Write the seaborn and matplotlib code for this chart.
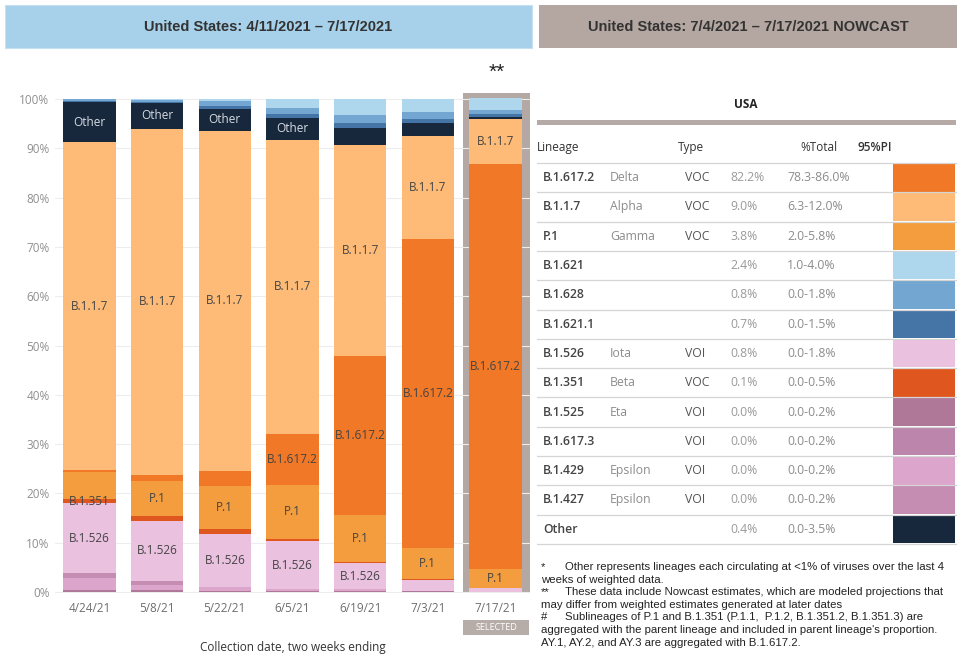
import numpy as np
import pandas as pd
import seaborn as sns
from matplotlib import pyplot as plt
from matplotlib.patches import Rectangle

sns.set_style('whitegrid')
plt.rcParams['font.family'] = ['Open Sans', 'DejaVu Sans']

# two-week periods (collection date, two weeks ending)
dates = ['4/24/21', '5/8/21', '5/22/21', '6/5/21', '6/19/21', '7/3/21', '7/17/21']

# % of sequences per lineage, one value per period (last one = nowcast)
b1621 = [0.1, 0.3, 0.5, 1.9, 3.2, 2.6, 2.4]
b1628 = [0.3, 0.3, 1.0, 1.1, 1.7, 1.5, 0.8]
b16211 = [0.2, 0.2, 0.5, 0.8, 1.0, 0.7, 0.7]
other = [8.2, 5.3, 4.4, 4.5, 3.4, 2.8, 0.4]
b117 = [66.4, 70.1, 69.1, 59.6, 42.8, 20.8, 9.0]
b16172 = [0.5, 1.3, 3.0, 10.3, 32.2, 62.7, 82.2]
p1 = [5.4, 7.1, 8.8, 11.1, 9.5, 6.3, 3.8]
b1351 = [0.9, 0.9, 1.0, 0.4, 0.3, 0.2, 0.1]
b1526 = [14.2, 12.2, 10.6, 9.7, 5.3, 2.2, 0.8]
b1427 = [0.9, 0.8, 0.1, 0.0, 0.0, 0.0, 0.0]
b1429 = [2.4, 1.1, 0.7, 0.4, 0.3, 0.0, 0.0]
b16173 = [0.0, 0.0, 0.0, 0.0, 0.0, 0.0, 0.0]
b1525 = [0.5, 0.4, 0.3, 0.2, 0.3, 0.2, 0.0]

# stack order, top to bottom
lineages = ['B.1.621', 'B.1.628', 'B.1.621.1', 'Other', 'B.1.1.7', 'B.1.617.2',
            'P.1', 'B.1.351', 'B.1.526', 'B.1.427', 'B.1.429', 'B.1.617.3', 'B.1.525']
share = dict(zip(lineages, [b1621, b1628, b16211, other, b117, b16172, p1,
                            b1351, b1526, b1427, b1429, b16173, b1525]))

colors = {'B.1.617.2': '#F07826', 'B.1.1.7': '#FDBB77', 'P.1': '#F39D3E',
          'B.1.621': '#AED6EC', 'B.1.628': '#73A6D0', 'B.1.621.1': '#4575A6',
          'B.1.526': '#EBC1E0', 'B.1.351': '#E0561F', 'B.1.525': '#B07898',
          'B.1.617.3': '#BC85AB', 'B.1.429': '#DBA5CC', 'B.1.427': '#C68DB3',
          'Other': '#18283C'}

# which segments carry a text label in each bar
shown = [['Other', 'B.1.1.7', 'B.1.351', 'B.1.526'],
         ['Other', 'B.1.1.7', 'P.1', 'B.1.526'],
         ['Other', 'B.1.1.7', 'P.1', 'B.1.526'],
         ['Other', 'B.1.1.7', 'B.1.617.2', 'P.1', 'B.1.526'],
         ['B.1.1.7', 'B.1.617.2', 'P.1', 'B.1.526'],
         ['B.1.1.7', 'B.1.617.2', 'P.1'],
         ['B.1.1.7', 'B.1.617.2', 'P.1']]

# nowcast table
tbl_lineage = ['B.1.617.2', 'B.1.1.7', 'P.1', 'B.1.621', 'B.1.628', 'B.1.621.1',
               'B.1.526', 'B.1.351', 'B.1.525', 'B.1.617.3', 'B.1.429', 'B.1.427', 'Other']
tbl_who = ['Delta', 'Alpha', 'Gamma', '', '', '', 'Iota', 'Beta', 'Eta', '',
           'Epsilon', 'Epsilon', '']
tbl_type = ['VOC', 'VOC', 'VOC', '', '', '', 'VOI', 'VOC', 'VOI', 'VOI', 'VOI', 'VOI', '']
tbl_pct = [82.2, 9.0, 3.8, 2.4, 0.8, 0.7, 0.8, 0.1, 0.0, 0.0, 0.0, 0.0, 0.4]
tbl_pi = ['78.3-86.0%', '6.3-12.0%', '2.0-5.8%', '1.0-4.0%', '0.0-1.8%', '0.0-1.5%',
          '0.0-1.8%', '0.0-0.5%', '0.0-0.2%', '0.0-0.2%', '0.0-0.2%', '0.0-0.2%',
          '0.0-3.5%']

notes = [('*', 'Other represents lineages each circulating at <1% of viruses over the last 4'),
         ('', 'weeks of weighted data.'),
         ('**', 'These data include Nowcast estimates, which are modeled projections that'),
         ('', 'may differ from weighted estimates generated at later dates'),
         ('#', 'Sublineages of P.1 and B.1.351 (P.1.1,  P.1.2, B.1.351.2, B.1.351.3) are'),
         ('', "aggregated with the parent lineage and included in parent lineage's proportion."),
         ('', 'AY.1, AY.2, and AY.3 are aggregated with B.1.617.2.')]

rows = []
for lin in lineages:
    for i, v in enumerate(share[lin]):
        rows.append({'period': i, 'Lineage': lin, 'pct': v})
data = pd.DataFrame(rows)

fig = plt.figure(figsize=(9.6, 6.57), dpi=100)
ax = fig.add_axes([55 / 960, 1 - 598 / 657, 475 / 960, 502 / 657])

# grey "selected" frame behind the nowcast bar
ax.add_patch(Rectangle((5.515, -0.2), 0.995, 101.4, color='#B3A8A3',
                       zorder=0.5, clip_on=False, lw=0))

sns.histplot(data=data, x='period', weights='pct', hue='Lineage', hue_order=lineages,
             palette=colors, multiple='stack', discrete=True, shrink=0.776,
             alpha=1, linewidth=0, legend=False, ax=ax)

for i in range(len(dates)):
    base = 0
    for lin in lineages[::-1]:
        v = share[lin][i]
        if lin in shown[i]:
            ax.text(i, base + v / 2, lin, ha='center', va='center', fontsize=8.5,
                    color='#D5DBE2' if lin == 'Other' else '#444444')
        base += v

ax.set_xlim(-0.51, 6.51)
ax.set_ylim(-1.2, 100.6)
ax.set_xticks(range(len(dates)))
ax.set_xticklabels(dates)
ax.set_xticks(np.arange(-0.5, 7, 1), minor=True)
ax.set_yticks(np.arange(0, 101, 10))
ax.set_yticklabels([f'{v}%' for v in range(0, 101, 10)])
ax.tick_params(axis='y', length=0, pad=4, labelsize=8.5, labelcolor='#8F8F8F')
ax.tick_params(axis='x', which='major', length=0, pad=3, labelsize=8.5, labelcolor='#6E6E6E')
ax.tick_params(axis='x', which='minor', length=4, width=0.8, color='#DCDCDC', direction='in')
ax.grid(axis='x', visible=False)
ax.grid(axis='y', color='#EDEDED', lw=0.8)
ax.set_axisbelow(True)
sns.despine(ax=ax, left=True, bottom=True)
ax.set_ylabel('')
ax.set_xlabel('Collection date, two weeks ending', fontsize=8.5, color='#333333')
ax.xaxis.set_label_coords(0.5, -(648 - 598) / 502)
ax.xaxis.label.set_va('center')

# overlay in pixel coordinates for headers, table and notes
ov = fig.add_axes([0, 0, 1, 1])
ov.set_xlim(0, 960)
ov.set_ylim(657, 0)
ov.axis('off')

hdr = dict(family=['Liberation Sans Narrow', 'Liberation Sans', 'DejaVu Sans'],
           weight='bold', fontsize=10.5, color='#333333', ha='center', va='center')
ov.add_patch(Rectangle((5, 5), 527, 43, facecolor='#A7D1EA', edgecolor='#C5E0F0', lw=0.8))
ov.text(268, 27, 'United States: 4/11/2021 – 7/17/2021', **hdr)
ov.add_patch(Rectangle((539, 5), 418, 43, color='#B4A7A1', lw=0))
ov.text(748, 27, 'United States: 7/4/2021 – 7/17/2021 NOWCAST', **hdr)

ov.text(497, 72, '**', ha='center', va='center', fontsize=15, color='#222222',
        family=['Liberation Sans', 'DejaVu Sans'])
ov.add_patch(Rectangle((463, 620), 66, 15, color='#B7ADA8', lw=0))
ov.text(496, 627.5, 'SELECTED', ha='center', va='center', fontsize=6.5, color='white')

ov.text(746, 105, 'USA', ha='center', va='center', fontsize=8.5, weight='bold', color='#222222')
ov.add_patch(Rectangle((537, 119.5), 419, 5.5, color='#B5AAA5', lw=0))
for x, t, w in zip([537, 678, 800, 858], ['Lineage', 'Type', '%Total', '95%PI'],
                   ['normal', 'normal', 'normal', 'semibold']):
    ov.text(x, 147.5, t, ha='left', va='center', fontsize=8.5, color='#333333', weight=w)

row_h = 29.3
top = 163
for k, lin in enumerate(tbl_lineage):
    y0 = top + k * row_h
    yc = y0 + row_h / 2
    ov.plot([537, 956], [y0, y0], color='#D5D5D5', lw=0.9)
    ov.add_patch(Rectangle((893, y0 + 0.8), 62, row_h - 1.6, color=colors[lin], lw=0))
    ov.text(543, yc, lin, ha='left', va='center', fontsize=8.8, weight='semibold', color='#444444')
    ov.text(610, yc, tbl_who[k], ha='left', va='center', fontsize=8.8, color='#8C8C8C')
    ov.text(685, yc, tbl_type[k], ha='left', va='center', fontsize=8.8, color='#555555')
    ov.text(730, yc, f'{tbl_pct[k]:.1f}%', ha='left', va='center', fontsize=8.8, color='#9A9A9A')
    ov.text(787, yc, tbl_pi[k], ha='left', va='center', fontsize=8.8, color='#8C8C8C')
ov.plot([537, 956], [top + len(tbl_lineage) * row_h] * 2, color='#D5D5D5', lw=0.9)

note_font = ['Liberation Sans', 'DejaVu Sans']
for k, (mark, line) in enumerate(notes):
    y = 567 + k * 12.6
    if mark:
        ov.text(541, y, mark, ha='left', va='center', fontsize=8.2, color='#222222', family=note_font)
        ov.text(565, y, line, ha='left', va='center', fontsize=8.2, color='#222222', family=note_font)
    else:
        ov.text(541, y, line, ha='left', va='center', fontsize=8.2, color='#222222', family=note_font)

plt.savefig('out.png', dpi=100)
